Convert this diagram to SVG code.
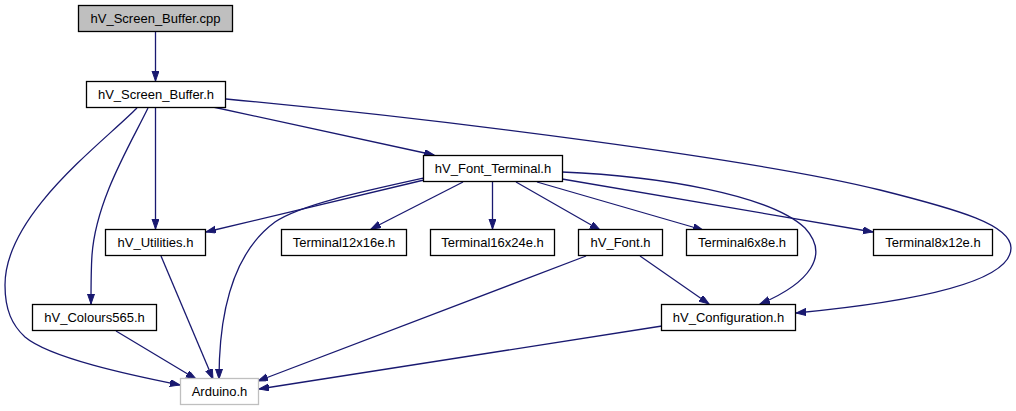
<svg xmlns="http://www.w3.org/2000/svg" width="1016" height="411" viewBox="0 0 1016 411">
<style>
  .node rect { fill: #ffffff; stroke: #000000; stroke-width: 1.3; }
  .node.root rect { fill: #bfbfbf; }
  .node.ext rect { stroke: #bfbfbf; }
  .node text { font-family: "Liberation Sans", Arial, sans-serif; font-size: 13px; fill: #000000; text-anchor: middle; }
  #edges path { fill: none; stroke: #191970; stroke-width: 1.3; marker-end: url(#arrow); }
</style>
<defs>
  <marker id="arrow" markerUnits="userSpaceOnUse" markerWidth="11" markerHeight="8" refX="10" refY="3.5" orient="auto" viewBox="0 0 11 8">
    <path d="M0,0 L10,3.5 L0,7 Z" fill="#191970" stroke="#191970" stroke-width="1"/>
  </marker>
</defs>
<rect width="1016" height="411" fill="#ffffff"/>
<g id="edges">
  <path d="M155.5,32 L155.5,81"/>
  <path d="M137,108 C100,145 5,215 5,285 C5,310 12,325 25,337 C50,358 130,375 180,385"/>
  <path d="M148,108 C130,145 96,200 92,255 C91,270 91,290 91,304"/>
  <path d="M155.5,108 L155.5,229"/>
  <path d="M213,107 L434,155"/>
  <path d="M226,99 C450,120 760,160 880,190 C960,210 1011,225 1011,248 C1011,285 900,303 796,313"/>
  <path d="M424,180 L206,232"/>
  <path d="M424,178 C360,192 300,205 275,222 C230,255 219,320 219,379"/>
  <path d="M463,182 L371,229"/>
  <path d="M492.5,182 L492.5,229"/>
  <path d="M516,182 L600,230"/>
  <path d="M537,182 L703,230"/>
  <path d="M562,179 L873,232"/>
  <path d="M562,172 C660,176 770,195 805,228 C830,255 810,283 760,304"/>
  <path d="M640,256 L709,304"/>
  <path d="M586,256 L258,381"/>
  <path d="M662,326 L259,389"/>
  <path d="M161,256 L213,379"/>
  <path d="M116,331 L196,379"/>
</g>
<g id="node_cpp" class="node root"><rect x="78.5" y="5.5" width="154" height="26"/><text x="155.5" y="23">hV_Screen_Buffer.cpp</text></g>
<g id="node_sb" class="node"><rect x="86.5" y="81.5" width="139" height="26"/><text x="156" y="99">hV_Screen_Buffer.h</text></g>
<g id="node_ft" class="node"><rect x="423.5" y="155.5" width="139" height="26"/><text x="493" y="173">hV_Font_Terminal.h</text></g>
<g id="node_util" class="node"><rect x="105.5" y="229.5" width="100" height="26"/><text x="155.5" y="247">hV_Utilities.h</text></g>
<g id="node_t12" class="node"><rect x="281.5" y="229.5" width="125" height="26"/><text x="344" y="247">Terminal12x16e.h</text></g>
<g id="node_t16" class="node"><rect x="430.5" y="229.5" width="124" height="26"/><text x="492.5" y="247">Terminal16x24e.h</text></g>
<g id="node_font" class="node"><rect x="578.5" y="229.5" width="84" height="26"/><text x="620.5" y="247">hV_Font.h</text></g>
<g id="node_t6" class="node"><rect x="686.5" y="229.5" width="111" height="26"/><text x="742" y="247">Terminal6x8e.h</text></g>
<g id="node_t8" class="node"><rect x="873.5" y="229.5" width="119" height="26"/><text x="933" y="247">Terminal8x12e.h</text></g>
<g id="node_col" class="node"><rect x="32.5" y="304.5" width="124" height="26"/><text x="94.5" y="322">hV_Colours565.h</text></g>
<g id="node_cfg" class="node"><rect x="661.5" y="304.5" width="134" height="26"/><text x="728.5" y="322">hV_Configuration.h</text></g>
<g id="node_ard" class="node ext"><rect x="180.5" y="378.5" width="78" height="26"/><text x="219.5" y="396">Arduino.h</text></g>
</svg>
